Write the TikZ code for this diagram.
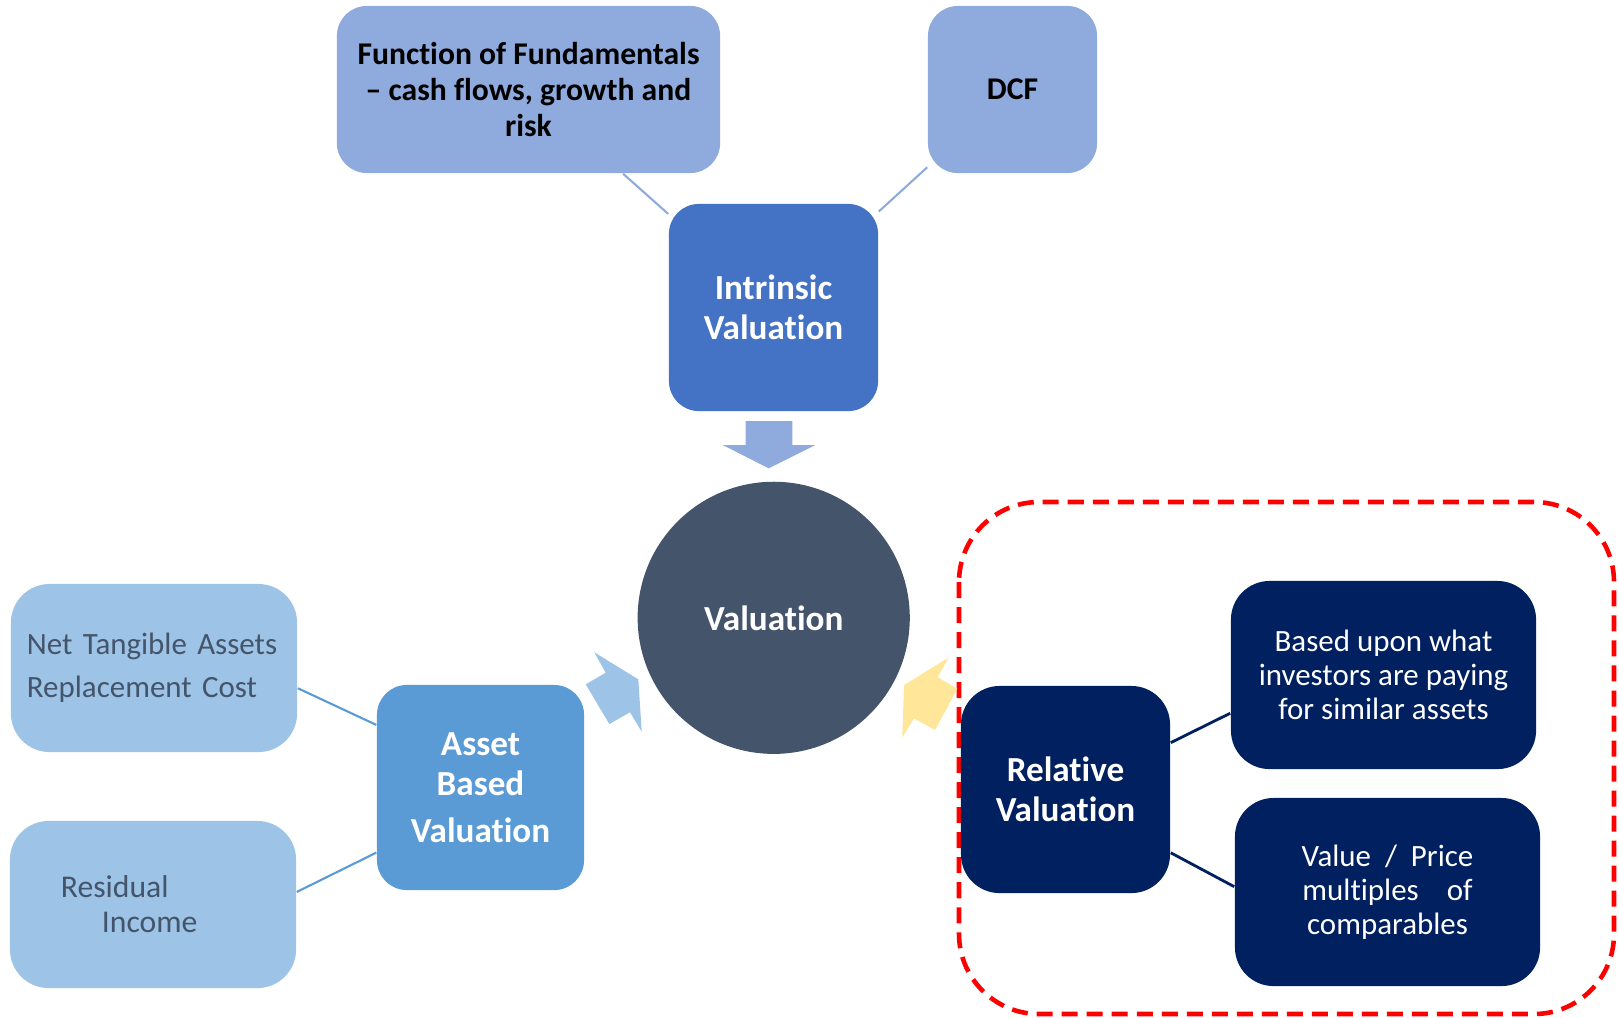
\documentclass[tikz,border=0pt]{standalone}
\usepackage{fontspec}
\setmainfont{Carlito}[Ligatures=NoCommon]
\usetikzlibrary{arrows.meta,positioning}
\usepackage{xcolor}
\definecolor{vlsky}{HTML}{8FAADC}
\definecolor{vlblue}{HTML}{4472C4}
\definecolor{vlslate}{HTML}{44546A}
\definecolor{vlmid}{HTML}{5B9BD5}
\definecolor{vlpale}{HTML}{9DC3E6}
\definecolor{vlnavy}{HTML}{002060}
\definecolor{vlsand}{HTML}{FFE699}
\newcommand\bigfont{\fontsize{10}{11.4}\selectfont\bfseries}
\newcommand\topfont{\fontsize{9}{10.2}\selectfont\bfseries}
\newcommand\notefont{\fontsize{8.8}{12.2}\selectfont}
\newcommand\sidefont{\fontsize{8.8}{9.7}\selectfont}
\tikzset{
    tile/.style={
        fill=#1,rounded corners=8.5pt,inner sep=0pt,
        align=center,text=white,font=\bigfont
    },
    tile/.default=vlblue,
    link/.style={
        line width=0.6pt,draw=#1
    },
    link/.default=vlsky,
    blockarrow/.style={
        fill=#1,draw=none
    }
}
\begin{document}
\begin{tikzpicture}[x=0.01cm,y=-0.01cm]
\useasboundingbox (0,0) rectangle (1619,1017);

% intrinsic branch
\node[tile=vlsky,text=black,font=\topfont,minimum width=3.83cm,minimum height=1.67cm]
(fund) at (528.5,89.5)
{Function of Fundamentals\\– cash flows, growth and\\risk};

\node[tile=vlsky,text=black,font=\topfont,minimum width=1.69cm,minimum height=1.67cm]
(dcf) at (1012.5,89.5) {DCF};

\node[tile,minimum width=2.09cm,minimum height=2.07cm]
(intr) at (773.5,307.5) {Intrinsic\\Valuation};

\draw[link] (fund) -- (intr);
\draw[link] (dcf) -- (intr);

% centre
\node[circle,fill=vlslate,text=white,font=\bigfont,minimum size=2.72cm]
(val) at (773.7,617.8) {Valuation};

\fill[blockarrow=vlsky] (745.7,421) -- (792.3,421) -- (792.3,445) -- (815.3,445)
  -- (768.7,468.3) -- (722.7,445) -- (745.7,445) -- cycle;

% asset based branch
\node[tile=vlmid,minimum width=2.07cm,minimum height=2.05cm]
(asset) at (480.5,787.5) {Asset\\Based\\[2pt]Valuation};

\node[tile=vlpale,rounded corners=11pt,text=vlslate,font=\notefont,
  text width=2.86cm,align=left,minimum height=1.68cm]
(nta) at (154,668) {\hspace*{0.16cm}Net Tangible Assets\\\hspace*{0.16cm}Replacement Cost};

\node[tile=vlpale,rounded corners=11pt,text=vlslate,font=\fontsize{9}{10}\selectfont,
  text width=2.86cm,align=left,minimum height=1.67cm]
(resid) at (153,904.5) {\hspace*{0.51cm}Residual\\\hspace*{0.92cm}Income};

\draw[link=vlmid] (nta.-8) -- (asset.149);
\draw[link=vlmid] (resid.5) -- (asset.212);

\fill[blockarrow=vlpale] (594.3,652.3) -- (638.3,679.3) -- (641.7,731.7) -- (630,712.3)
  -- (609.3,724) -- (585.7,684.3) -- (605.7,672.7) -- cycle;

% relative branch
\draw[red,line width=1.3pt,dash pattern=on 0.16cm off 0.09cm,rounded corners=0.8cm]
  (959,502) rectangle (1614,1014);

\node[tile=vlnavy,rounded corners=11pt,minimum width=2.09cm,minimum height=2.07cm]
(rel) at (1065.5,789.5) {Relative\\Valuation};

\node[tile=vlnavy,rounded corners=11pt,font=\sidefont,minimum width=3.05cm,minimum height=1.88cm]
(peers) at (1383.5,675) {Based upon what\\investors are paying\\for similar assets};

\node[tile=vlnavy,rounded corners=11pt,font=\sidefont,minimum width=3.05cm,minimum height=1.88cm]
(mult) at (1387.5,892) {Value~~/~~Price\\multiples~~~~of\\comparables};

\draw[link=vlnavy,line width=0.8pt] (rel.24) -- (peers.194);
\draw[link=vlnavy,line width=0.8pt] (rel.-31) -- (mult.178);

\fill[blockarrow=vlsand] (948.3,657.7) -- (904,685) -- (902.3,737.3) -- (914,718.3)
  -- (935,730) -- (957.3,688.7) -- (937.7,677.3) -- cycle;

\end{tikzpicture}
\end{document}
